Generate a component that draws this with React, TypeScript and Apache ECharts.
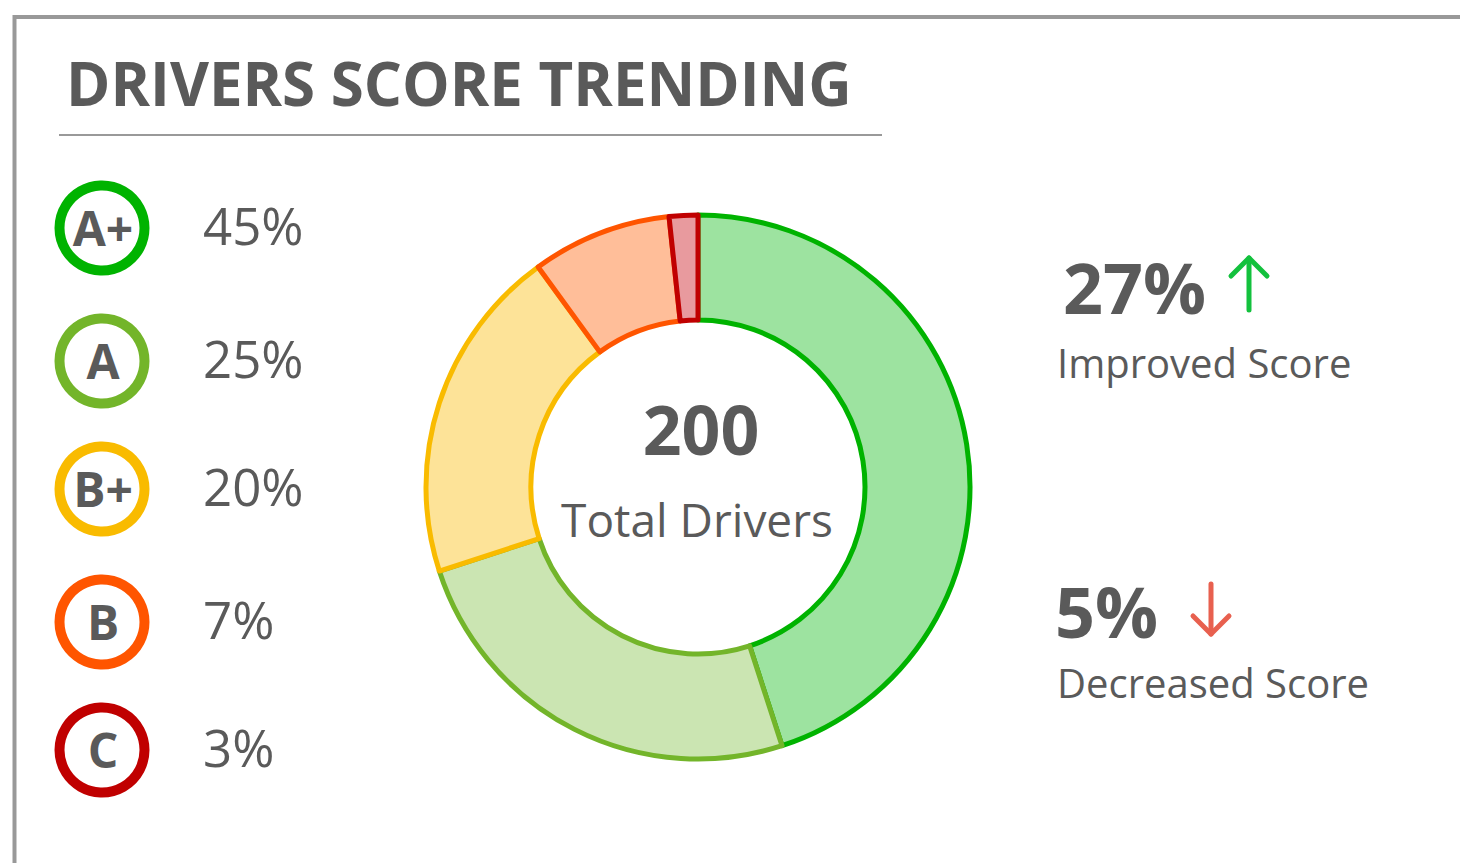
import React, { useEffect, useRef } from "react";
import * as echarts from "echarts";

const grades = ["A+", "A", "B+", "B", "C"];
const shareLabels = [45, 25, 20, 7, 3];
// slice sizes as drawn in the reference ring (percent of total)
const sliceValues = [45, 25, 20, 8.3, 1.7];
const strokeColors = ["#00b300", "#73b52a", "#f9bb00", "#ff5500", "#c00000"];
const fillColors = ["#9de3a0", "#cbe5b2", "#fde398", "#ffbe99", "#e89a9e"];
const totalDrivers = 200;
const improvedPct = 27;
const decreasedPct = 5;

const TEXT = "#5a5a5a";
const FONT = "'Open Sans', 'Noto Sans', sans-serif";

export default function App() {
  const ref = useRef<HTMLDivElement>(null);
  useEffect(() => {
    if (!ref.current) return;
    const chart = echarts.init(ref.current, undefined, { renderer: "svg" });
    const rowY = [228, 361, 489, 622, 750];
    const legendEls: any[] = [];
    grades.forEach((g, i) => {
      legendEls.push({
        type: "circle",
        shape: { cx: 102, cy: rowY[i], r: 42.5 },
        style: { fill: "#fff", stroke: strokeColors[i], lineWidth: 10 },
      });
      legendEls.push({
        type: "text",
        x: 103,
        y: rowY[i] - 1,
        style: {
          text: g,
          fill: TEXT,
          font: `bold 48px ${FONT}`,
          align: "center",
          verticalAlign: "middle",
        },
      });
      legendEls.push({
        type: "text",
        x: 203,
        y: rowY[i] - 3,
        style: {
          text: `${shareLabels[i]}%`,
          fill: TEXT,
          font: `51px ${FONT}`,
          align: "left",
          verticalAlign: "middle",
        },
      });
    });

    chart.setOption({
      animation: false,
      graphic: [
        // border
        { type: "line", shape: { x1: 14, y1: 17, x2: 1460, y2: 17 }, style: { stroke: "#999", lineWidth: 4 } },
        { type: "line", shape: { x1: 14.5, y1: 15, x2: 14.5, y2: 863 }, style: { stroke: "#999", lineWidth: 4 } },
        // title
        {
          type: "text",
          x: 66,
          y: 83,
          style: {
            text: "DRIVERS SCORE TRENDING",
            fill: TEXT,
            font: `bold 60px ${FONT}`,
            align: "left",
            verticalAlign: "middle",
          },
        },
        { type: "line", shape: { x1: 59, y1: 135, x2: 882, y2: 135 }, style: { stroke: "#999", lineWidth: 2 } },
        ...legendEls,
        // center
        {
          type: "text",
          x: 701,
          y: 428,
          style: { text: String(totalDrivers), fill: TEXT, font: `bold 68px ${FONT}`, align: "center", verticalAlign: "middle" },
        },
        {
          type: "text",
          x: 697,
          y: 519,
          style: { text: "Total Drivers", fill: TEXT, font: `46px ${FONT}`, align: "center", verticalAlign: "middle" },
        },
        // improved
        {
          type: "text",
          x: 1063,
          y: 287,
          style: { text: `${improvedPct}%`, fill: TEXT, font: `bold 70px ${FONT}`, align: "left", verticalAlign: "middle" },
        },
        {
          type: "polyline",
          shape: { points: [[1249, 310], [1249, 258]] },
          style: { stroke: "#13c13d", lineWidth: 5, lineCap: "round" },
        },
        {
          type: "polyline",
          shape: { points: [[1231, 276], [1249, 258], [1267, 276]] },
          style: { stroke: "#13c13d", lineWidth: 5, lineCap: "round", lineJoin: "round", fill: null },
        },
        {
          type: "text",
          x: 1057,
          y: 362,
          style: { text: "Improved Score", fill: TEXT, font: `40px ${FONT}`, align: "left", verticalAlign: "middle" },
        },
        // decreased
        {
          type: "text",
          x: 1055,
          y: 611,
          style: { text: `${decreasedPct}%`, fill: TEXT, font: `bold 70px ${FONT}`, align: "left", verticalAlign: "middle" },
        },
        {
          type: "polyline",
          shape: { points: [[1211, 584], [1211, 634]] },
          style: { stroke: "#e8604f", lineWidth: 5, lineCap: "round" },
        },
        {
          type: "polyline",
          shape: { points: [[1193, 616], [1211, 634], [1229, 616]] },
          style: { stroke: "#e8604f", lineWidth: 5, lineCap: "round", lineJoin: "round", fill: null },
        },
        {
          type: "text",
          x: 1057,
          y: 682,
          style: { text: "Decreased Score", fill: TEXT, font: `40px ${FONT}`, align: "left", verticalAlign: "middle" },
        },
      ],
      series: [
        {
          type: "pie",
          center: [698, 487],
          radius: [167, 272],
          startAngle: 90,
          clockwise: true,
          label: { show: false },
          labelLine: { show: false },
          emphasis: { disabled: true },
          data: grades.map((g, i) => ({
            name: g,
            value: sliceValues[i],
            itemStyle: { color: fillColors[i], borderColor: strokeColors[i], borderWidth: 5 },
          })),
        },
      ],
    });
    return () => chart.dispose();
  }, []);
  return (
    <div
      ref={ref}
      style={{ position: "fixed", left: 0, top: 0, width: 1460, height: 863, background: "#fff" }}
    />
  );
}
